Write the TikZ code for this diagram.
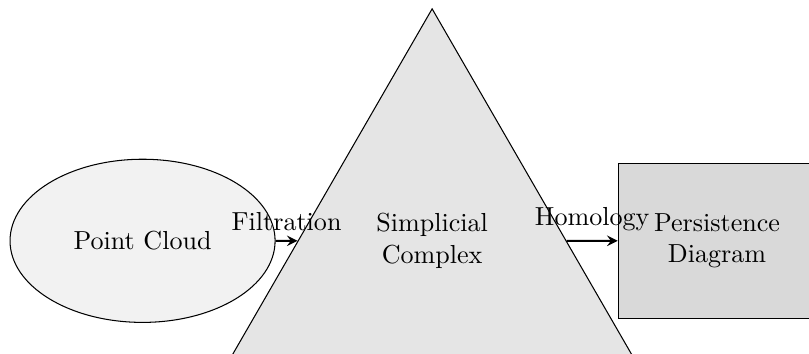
\documentclass[tikz,border=0pt]{standalone}
\usetikzlibrary{shapes.geometric,arrows}

\begin{document}
\begin{tikzpicture}[
        >=stealth,
        cloudnode/.style={ellipse, draw, fill=gray!10, inner sep=0pt,
          minimum width=101.7pt, minimum height=62.6pt},
        complexnode/.style={regular polygon, regular polygon sides=3, draw,
          fill=gray!20, inner sep=0pt, minimum size=178pt, align=center},
        diagramnode/.style={rectangle, draw, fill=gray!30, inner sep=0pt,
          minimum width=75.8pt, minimum height=59.5pt, align=center},
        flow/.style={->, thick}
    ]
      \useasboundingbox (0,0) rectangle (310.4pt,135.8pt);
      \clip (0,0) rectangle (310.4pt,135.8pt);

      % Stages
      \node[cloudnode] (cloud) at (54.7pt,43.4pt) {Point Cloud};
      \node[complexnode] (complex) at (165.8pt,43.4pt) {Simplicial\\Complex};
      \node[diagramnode] (diagram) at (275.1pt,43.4pt) {Persistence\\Diagram};

      % Arrows between stages
      \draw[flow] (cloud) -- node[above] {Filtration} (complex);
      \draw[flow] (complex) -- node[above] {Homology} (diagram);
    \end{tikzpicture}
\end{document}
